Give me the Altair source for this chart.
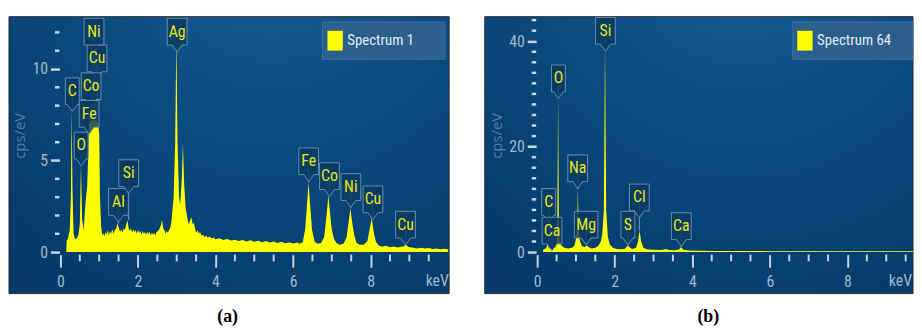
import altair as alt
import pandas as pd

FONT = "Liberation Sans Narrow, Roboto Condensed, DejaVu Sans Condensed, Roboto, sans-serif"
YELLOW = "#ffff00"
TICK = "#c9d4de"
LAB = "#a3b7c8"

# ---------------- Panel (a): Spectrum 1 ----------------
kev_a = [0.15, 0.16, 0.20, 0.24, 0.27, 0.29, 0.31, 0.34, 0.38, 0.42, 0.46, 0.50, 0.53, 0.56,
         0.60, 0.63, 0.66, 0.69, 0.72, 0.74, 0.78, 0.84, 0.90, 0.96, 1.00, 1.02, 1.05,
         1.08, 1.10, 1.13, 1.16, 1.19, 1.22, 1.25, 1.28, 1.31, 1.34, 1.37, 1.40,
         1.44, 1.47, 1.51, 1.54, 1.57, 1.60, 1.63, 1.66, 1.70, 1.73, 1.76, 1.79,
         1.82, 1.85, 1.88, 1.91, 1.94, 1.97, 2.00, 2.03, 2.06, 2.09, 2.12, 2.15,
         2.18, 2.21, 2.24, 2.27, 2.30, 2.33, 2.36, 2.39, 2.42, 2.45, 2.48, 2.52,
         2.56, 2.59, 2.62, 2.65, 2.68, 2.71, 2.74, 2.77, 2.80, 2.83, 2.86,
         2.92, 2.96, 2.99, 3.02, 3.06, 3.09, 3.13, 3.16, 3.19, 3.23,
         3.28, 3.31, 3.34, 3.38, 3.41, 3.44, 3.48, 3.51, 3.54, 3.57, 3.60, 3.64,
         3.68, 3.72, 3.76, 3.80, 3.85, 3.90, 3.95, 4.00, 4.10, 4.20, 4.30, 4.40,
         4.50, 4.60, 4.70, 4.80, 4.90, 5.00, 5.10, 5.20, 5.30, 5.40, 5.50, 5.60,
         5.70, 5.80, 5.90, 6.00, 6.10, 6.18,
         6.25, 6.31, 6.36, 6.40, 6.44, 6.49, 6.56, 6.64, 6.72,
         6.80, 6.86, 6.91, 6.95, 7.00, 7.06, 7.12, 7.20, 7.30, 7.38, 7.43, 7.48, 7.52, 7.58,
         7.64, 7.72, 7.82, 7.92, 7.97, 8.03, 8.08, 8.14,
         8.22, 8.30, 8.40, 8.50, 8.60, 8.70, 8.78, 8.84, 8.91, 8.98,
         9.10, 9.20, 9.30, 9.40, 9.50, 9.60, 9.70, 9.80, 9.90, 10.0]
cps_a = [0.0, 0.6, 0.8, 1.2, 3.0, 7.8, 3.5, 1.0, 0.7, 0.75, 0.9, 1.5, 4.8, 1.8,
         1.2, 2.2, 3.0, 3.6, 5.5, 7.0, 7.2, 7.2, 7.2, 7.2, 6.5, 3.0, 1.4,
         0.9, 1.05, 0.85, 1.1, 0.95, 1.2, 0.9, 1.15, 1.0, 1.25, 1.0, 1.2,
         1.3, 1.57, 1.3, 1.1, 1.25, 1.05, 1.3, 1.2, 1.5, 1.75, 1.3, 1.15,
         1.3, 1.05, 1.25, 1.1, 1.2, 1.0, 1.2, 1.05, 1.15, 0.95, 1.15, 1.0,
         1.1, 0.95, 1.1, 1.0, 1.1, 0.9, 1.05, 0.95, 1.05, 0.9, 1.1, 1.15,
         1.3, 1.45, 1.75, 1.3, 1.2, 1.0, 1.15, 1.05, 1.2, 1.3, 1.6,
         3.0, 6.0, 11.7, 6.0, 3.0, 2.6, 4.0, 5.9, 3.8, 2.4,
         1.8, 1.5, 1.7, 1.9, 1.5, 1.6, 1.2, 1.05, 1.2, 1.0, 1.1, 0.9,
         0.95, 0.82, 0.9, 0.78, 0.85, 0.74, 0.8, 0.7, 0.76, 0.66, 0.72, 0.63,
         0.68, 0.6, 0.66, 0.58, 0.64, 0.56, 0.62, 0.54, 0.6, 0.52, 0.58, 0.5,
         0.56, 0.48, 0.54, 0.47, 0.52, 0.46,
         0.55, 1.2, 2.6, 3.8, 2.6, 1.2, 0.55, 0.45, 0.5,
         0.8, 1.9, 3.1, 2.2, 1.2, 0.7, 0.5, 0.4, 0.45, 0.8, 1.6, 2.4, 1.7, 0.9,
         0.5, 0.4, 0.4, 0.6, 1.2, 1.85, 1.1, 0.55,
         0.35, 0.3, 0.34, 0.27, 0.31, 0.25, 0.29, 0.3, 0.38, 0.28,
         0.24, 0.2, 0.23, 0.19, 0.22, 0.17, 0.2, 0.16, 0.18, 0.15]
names_a = ["Ni", "Cu", "C", "Co", "Fe", "O", "Al", "Si", "Ag", "Fe", "Co", "Ni", "Cu", "Cu"]
lx_a = [0.867, 0.944, 0.306, 0.791, 0.740, 0.536, 1.497, 1.760, 3.010, 6.403, 6.939, 7.49, 8.06, 8.90]
ly_a = [12.04, 10.58, 8.79, 9.06, 7.55, 5.82, 2.74, 4.31, 12.04, 4.96, 4.15, 3.55, 2.88, 1.50]
ptop_a = [7.2, 7.2, 7.8, 7.2, 7.2, 4.8, 1.57, 1.75, 11.7, 3.8, 3.1, 2.4, 1.85, 0.38]
ymajor_a = [0, 5, 10]
yminor_a = [1, 2, 3, 4, 6, 7, 8, 9, 11, 12]

# ---------------- Panel (b): Spectrum 64 ----------------
kev_b = [0.15, 0.16, 0.20, 0.24, 0.27, 0.30, 0.35, 0.40, 0.43, 0.47, 0.50, 0.52, 0.54, 0.56,
         0.58, 0.62, 0.70, 0.80, 0.90, 0.96, 1.00, 1.03, 1.05, 1.07, 1.10, 1.15, 1.22, 1.28,
         1.33, 1.40, 1.50, 1.58, 1.64, 1.68, 1.72, 1.75, 1.78, 1.82, 1.87, 1.95, 2.05, 2.15,
         2.25, 2.31, 2.34, 2.38, 2.45, 2.55, 2.60, 2.64, 2.68, 2.74, 2.85, 3.00, 3.20, 3.32,
         3.40, 3.55, 3.66, 3.71, 3.76, 3.90, 4.20, 4.60, 5.00, 6.00, 7.00, 8.00, 9.00, 9.69]
cps_b = [0.0, 0.5, 0.6, 0.9, 1.6, 0.8, 0.6, 0.7, 0.9, 0.8, 1.5, 5.0, 29.4, 5.0,
         2.0, 1.3, 0.8, 0.7, 0.8, 1.2, 2.5, 5.0, 11.9, 4.5, 2.2, 1.2, 0.9, 1.3,
         0.9, 0.7, 0.8, 1.2, 2.0, 3.5, 8.0, 39.4, 8.0, 3.0, 1.5, 0.8, 0.6, 0.55,
         0.6, 1.0, 1.3, 0.9, 0.6, 0.8, 2.0, 4.1, 2.0, 0.8, 0.5, 0.45, 0.4, 0.6,
         0.4, 0.35, 0.5, 0.95, 0.5, 0.3, 0.25, 0.22, 0.2, 0.18, 0.16, 0.15, 0.14, 0.14]
names_b = ["Si", "O", "Na", "C", "Ca", "Mg", "S", "Cl", "Ca"]
lx_b = [1.760, 0.548, 1.046, 0.298, 0.383, 1.263, 2.339, 2.635, 3.717]
ly_b = [41.97, 32.96, 15.89, 9.51, 4.07, 5.20, 5.20, 10.36, 4.92]
ptop_b = [39.4, 29.4, 11.9, 1.6, 0.9, 1.3, 1.3, 4.1, 0.95]
ymajor_b = [0, 20, 40]
yminor_b = [2, 4, 6, 8, 10, 12, 14, 16, 18, 22, 24, 26, 28, 30, 32, 34, 36, 38, 42, 44]

xmajor = [0, 2, 4, 6, 8]
xminor = [0.5, 1, 1.5, 2.5, 3, 3.5, 4.5, 5, 5.5, 6.5, 7, 7.5, 8.5, 9, 9.5]

SHAPE_N = "M-0.52,-1H0.52V1H0.37L0,1.52L-0.37,1H-0.52Z"
SHAPE_W = "M-0.74,-1H0.74V1H0.37L0,1.52L-0.37,1H-0.74Z"
SHAPE_X = "M-0.88,-1H0.88V1H0.37L0,1.52L-0.37,1H-0.88Z"

GRAD = alt.RadialGradient(
    gradient="radial",
    stops=[alt.GradientStop(offset=0, color="#16609a"),
           alt.GradientStop(offset=0.5, color="#0b4b80"),
           alt.GradientStop(offset=1, color="#04396a")],
    x1=0.6, y1=0.0, x2=0.6, y2=0.0, r1=0, r2=0.95)


def panel(kev, cps, xmax, ymax, W, H, ymajor, yminor, names, lx, ly, ptop,
          legend_label, letter, box_x0, box_x1, leg_x0, leg_x1, letter_x, kev_x, kev_align):
    xs = alt.Scale(domain=[0, xmax], nice=False, zero=False)
    ys = alt.Scale(domain=[0, ymax], nice=False)
    xaxis = alt.Axis(values=xmajor, format="d", tickSize=12.7, tickWidth=2, tickColor=TICK,
                     labelColor=LAB, labelFont=FONT, labelFontSize=16, labelPadding=7,
                     offset=2.6, domain=False, grid=False, zindex=1, labelFlush=False)
    yaxis = alt.Axis(values=ymajor, tickSize=9, tickWidth=2.5, tickColor=TICK, offset=1,
                     labelColor=LAB, labelFont=FONT, labelFontSize=16, labelPadding=3,
                     domain=False, grid=False, zindex=1, labelFlush=False,
                     title="cps/eV", titleColor="#4f80aa", titleFont="Open Sans",
                     titleFontSize=15, titleFontWeight="normal", titleX=-40, titleY=120,
                     titleAngle=270, titleBaseline="middle", titleAlign="center")

    def X(f):
        return alt.X(f + ":Q", scale=xs, axis=xaxis, title=None)

    def Y(f):
        return alt.Y(f + ":Q", scale=ys, axis=yaxis, title="cps/eV")

    one = pd.DataFrame({"k": [0]})
    bg = alt.Chart(one).mark_rect(fill=GRAD, stroke="#2a2a2a", strokeWidth=1).encode(
        x=alt.value(box_x0), x2=alt.value(box_x1), y=alt.value(0), y2=alt.value(280))

    spec = pd.DataFrame({"kev": kev, "cps": cps})
    area = alt.Chart(spec).mark_area(color=YELLOW, interpolate="linear").encode(
        x=X("kev"), y=Y("cps"))

    xm = pd.DataFrame({"kev": xminor})
    xticks = alt.Chart(xm).mark_rule(color=TICK, strokeWidth=2).encode(
        x=X("kev"), y=alt.value(H + 2.6), y2=alt.value(H + 9.3))
    ym = pd.DataFrame({"cps": yminor})
    yticks = alt.Chart(ym).mark_rule(color=TICK, strokeWidth=2.5).encode(
        y=Y("cps"), x=alt.value(-5.5), x2=alt.value(-1))

    lab = pd.DataFrame({"name": names, "kev": lx, "ly": ly, "ptop": ptop})
    base = alt.Chart(lab).transform_calculate(
        kind="datum.name == 'Mg' ? 'x' : (length(datum.name) > 1 ? 'w' : 'n')")
    rules = base.mark_rule(color="#8fb2cc", strokeWidth=1, opacity=0.75).encode(
        x=X("kev"), y=Y("ptop"), y2=alt.Y2("ly"))
    boxes = base.mark_point(filled=True, fill="#0b3a60", stroke="#6f98b8", strokeWidth=1,
                            fillOpacity=0.82, strokeOpacity=0.9, opacity=1, size=729).encode(
        x=X("kev"), y=Y("ly"),
        shape=alt.Shape("kind:N", scale=alt.Scale(domain=["n", "w", "x"],
                                                  range=[SHAPE_N, SHAPE_W, SHAPE_X]),
                        legend=None))
    texts = base.mark_text(font=FONT, fontSize=16, color="#e8e817", baseline="middle",
                           align="center").encode(x=X("kev"), y=Y("ly"), text="name:N")

    leg = pd.DataFrame({"label": [legend_label]})
    legbox = alt.Chart(leg).mark_rect(fill="#2b5f8d", stroke="#3b6e9c", strokeWidth=1).encode(
        x=alt.value(leg_x0), x2=alt.value(leg_x1), y=alt.value(5.3), y2=alt.value(43))
    legsq = alt.Chart(leg).mark_rect(fill=YELLOW).encode(
        x=alt.value(leg_x0 + 5), x2=alt.value(leg_x0 + 20.5), y=alt.value(14.3), y2=alt.value(34.3))
    legtx = alt.Chart(leg).mark_text(font=FONT, fontSize=15, color="#e4eaf0", align="left",
                                     baseline="middle").encode(
        x=alt.value(leg_x0 + 25), y=alt.value(24), text="label:N")

    unit = pd.DataFrame({"u": ["keV"]})
    kevt = alt.Chart(unit).mark_text(font=FONT, fontSize=16, color=LAB, align=kev_align,
                                     baseline="middle").encode(
        x=alt.value(kev_x), y=alt.value(H + 29.3), text="u:N")

    let = pd.DataFrame({"t": [letter]})
    lett = alt.Chart(let).mark_text(font="Liberation Serif", fontSize=18, fontWeight="bold",
                                    color="#000000", align="center", baseline="middle").encode(
        x=alt.value(letter_x), y=alt.value(304), text="t:N")

    return alt.layer(bg, area, xticks, yticks, rules, boxes, texts, legbox, legsq, legtx,
                     kevt, lett).properties(width=W, height=H)


H = 238
pa = panel(kev_a, cps_a, 10.0, 12.86, 392, H, ymajor_a, yminor_a, names_a, lx_a, ly_a, ptop_a,
           "Spectrum 1", "(a)", -52, 393, 265, 389, 169, 381, "center")
pb = panel(kev_b, cps_b, 9.69, 44.65, 380, H, ymajor_b, yminor_b, names_b, lx_b, ly_b, ptop_b,
           "Spectrum 64", "(b)", -53, 380, 258, 380, 173, 379, "right")

chart = alt.hconcat(pa, pb, spacing=34).properties(
    padding={"left": 0, "top": 5, "right": 0, "bottom": 0},
    background="white",
).configure_view(stroke="transparent")

chart.save("out.html", embed_options={"renderer": "svg", "actions": False})
